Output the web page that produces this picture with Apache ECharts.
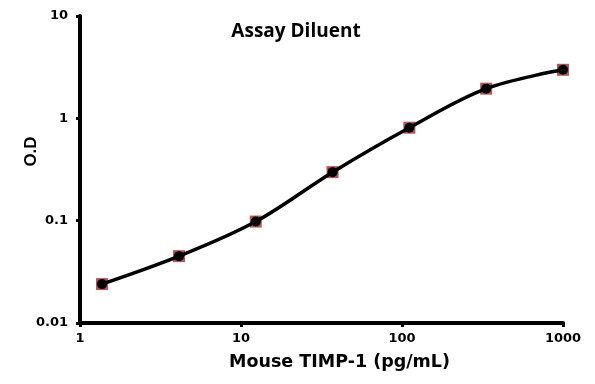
<!DOCTYPE html>
<html>
<head>
<meta charset="utf-8">
<script src="https://cdn.jsdelivr.net/npm/echarts@6/dist/echarts.min.js"></script>
<style>html,body{margin:0;padding:0;background:#fff}#c{width:595px;height:384px}</style>
</head>
<body>
<div id="c"></div>
<script>
var concentrations = [1.37, 4.12, 12.35, 37.04, 111.1, 333.3, 1000];
var odValues = [0.024, 0.045, 0.098, 0.298, 0.81, 1.95, 2.98];
var xTicks = [1, 10, 100, 1000];
var yTicks = [0.01, 0.1, 1, 10];
var titleText = 'Assay Diluent';
var xName = 'Mouse TIMP-1 (pg/mL)';
var yName = 'O.D';

var pts = concentrations.map(function (c, i) { return [c, odValues[i]]; });
var chart = echarts.init(document.getElementById('c'));
var axisFont = { color: '#000', fontFamily: 'DejaVu Sans', fontWeight: 'bold', fontSize: 13 };
chart.setOption({
  animation: false,
  title: {
    text: titleText, left: 291, top: 17, textAlign: 'center',
    textStyle: { fontFamily: 'Open Sans', fontWeight: 'bold', fontSize: 19, color: '#000' }
  },
  grid: { left: 80, top: 16, right: 32, bottom: 61 },
  xAxis: {
    type: 'log', logBase: 10, min: 1, max: 1000,
    name: xName, nameLocation: 'middle', nameGap: 30,
    nameTextStyle: { fontFamily: 'DejaVu Sans', fontWeight: 'bold', fontSize: 17.5, color: '#000', padding: [0, 0, 0, 36] },
    axisLine: { show: true, lineStyle: { color: '#000', width: 4 } },
    axisTick: { show: true, length: 4, lineStyle: { color: '#000', width: 3 } },
    minorTick: { show: false },
    splitLine: { show: false },
    axisLabel: Object.assign({ show: true, margin: 9, formatter: function (v) { return String(v); } }, axisFont)
  },
  yAxis: {
    type: 'log', logBase: 10, min: 0.01, max: 10,
    name: yName, nameLocation: 'middle', nameGap: 40, nameMoveOverlap: false,
    nameTextStyle: { fontFamily: 'Liberation Sans', fontWeight: 'bold', fontSize: 17, color: '#000', padding: [0, 0, 0, 36] },
    axisLine: { show: true, lineStyle: { color: '#000', width: 4 } },
    axisTick: { show: true, length: 4, lineStyle: { color: '#000', width: 3 } },
    minorTick: { show: false },
    splitLine: { show: false },
    axisLabel: Object.assign({ show: true, margin: 12, formatter: function (v) { return String(+v.toPrecision(2)); } }, axisFont)
  },
  series: [
    {
      type: 'scatter', data: pts, symbol: 'rect', symbolSize: 12, z: 2,
      itemStyle: { color: '#b5545a', opacity: 1 }
    },
    {
      type: 'line', data: pts, smooth: 0.35, symbol: 'circle', symbolSize: 10, z: 3,
      lineStyle: { color: '#000', width: 3.5 },
      itemStyle: { color: '#000', borderWidth: 0 }
    }
  ]
});
</script>
</body>
</html>
